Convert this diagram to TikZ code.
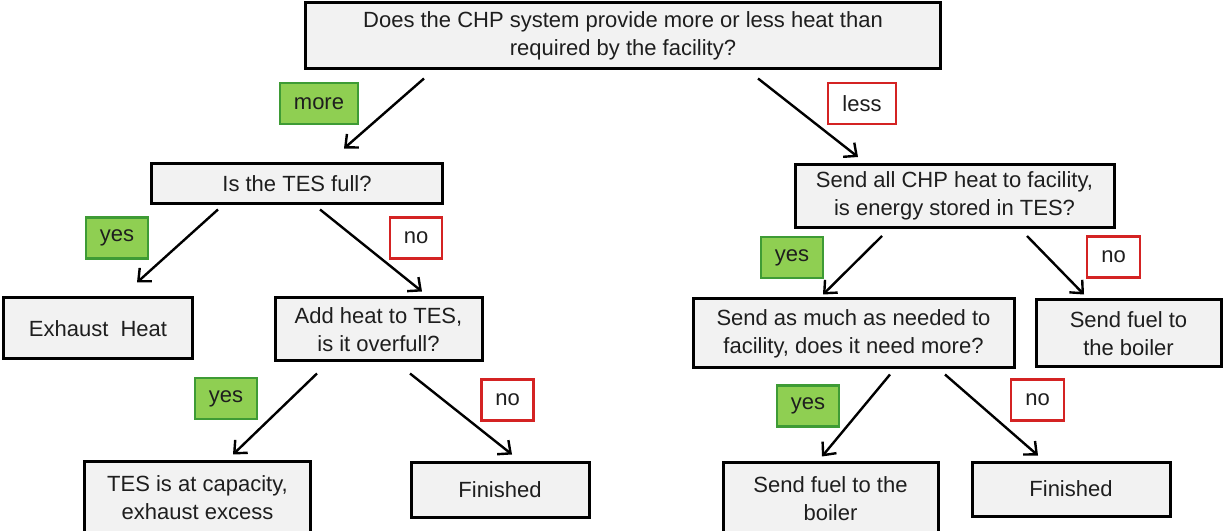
\documentclass[tikz,border=0pt]{standalone}
\usepackage{fontspec}
\setmainfont{Liberation Sans}
\usetikzlibrary{arrows.meta}
\definecolor{boxgray}{HTML}{F2F2F2}
\definecolor{yesfill}{HTML}{8FCF52}
\definecolor{yesedge}{HTML}{3E9B35}
\definecolor{nored}{HTML}{D42323}
\definecolor{inkgray}{HTML}{1E1E1E}

\begin{document}
\begin{tikzpicture}[x=1bp, y=-1bp,
    box/.style={draw=black, fill=boxgray, line width=3bp, align=center, inner sep=0pt,
      text=inkgray, font=\fontsize{22bp}{28bp}\selectfont},
    yeslabel/.style={draw=yesedge, fill=yesfill, line width=2.6bp, inner sep=0pt,
      minimum width=62bp, minimum height=41bp, text=inkgray, font=\fontsize{22bp}{28bp}\selectfont},
    nolabel/.style={draw=nored, fill=white, line width=2.6bp, inner sep=0pt,
      minimum width=52bp, minimum height=41bp, text=inkgray, font=\fontsize{22bp}{28bp}\selectfont},
    flow/.style={-{Straight Barb[length=10bp,width=18bp]}, line width=2.4bp}]
        \useasboundingbox (0,0) rectangle (1225,531);

        % Question boxes
        \node[box, minimum width=634bp, minimum height=66bp] (q) at (623,36)
          {Does the CHP system provide more or less heat than\\required by the facility?};
        \node[box, minimum width=290bp, minimum height=40bp] (full) at (297,184) {Is the TES full?};
        \node[box, minimum width=319bp, minimum height=63bp] (send) at (954.5,196)
          {Send all CHP heat to facility,\\is energy stored in TES?};
        \node[box, minimum width=207bp, minimum height=63bp] (add) at (378.5,329.5)
          {Add heat to TES,\\is it overfull?};
        \node[box, minimum width=321bp, minimum height=69bp] (ask) at (853.5,333.5)
          {Send as much as needed to\\facility, does it need more?};

        % Outcome boxes
        \node[box, minimum width=188bp, minimum height=61bp] (exh) at (98,328.5) {Exhaust\ \ Heat};
        \node[box, minimum width=185bp, minimum height=67bp] (fuel1) at (1128.5,333.5)
          {Send fuel to\\the boiler};
        \node[box, minimum width=225bp, minimum height=72bp] (cap) at (197.5,498)
          {TES is at capacity,\\exhaust excess};
        \node[box, minimum width=178bp, minimum height=55bp] (fin1) at (500,489.5) {Finished};
        \node[box, minimum width=215bp, minimum height=72bp] (fuel2) at (830.5,499)
          {Send fuel to the\\boiler};
        \node[box, minimum width=198bp, minimum height=54bp] (fin2) at (1071,489) {Finished};

        % Arrows
        \draw[flow] ([shift={(-199,8)}]q.south) -- ([shift={(47,-14)}]full.north);
        \draw[flow] ([shift={(135,8)}]q.south) -- ([shift={(-96.5,-6)}]send.north);
        \draw[flow] ([shift={(-79,4)}]full.south) -- ([shift={(39,-14)}]exh.north);
        \draw[flow] ([shift={(23,4)}]full.south) -- ([shift={(43.5,-5)}]add.north);
        \draw[flow] ([shift={(-72.5,7)}]send.south) -- ([shift={(-30.5,-3)}]ask.north);
        \draw[flow] ([shift={(72.5,7)}]send.south) -- ([shift={(-44.5,-4)}]fuel1.north);
        \draw[flow] ([shift={(-61.5,11)}]add.south) -- ([shift={(35.5,-6)}]cap.north);
        \draw[flow] ([shift={(31.5,11)}]add.south) -- ([shift={(12,-6)}]fin1.north);
        \draw[flow] ([shift={(36.5,5)}]ask.south) -- ([shift={(-8.5,-5)}]fuel2.north);
        \draw[flow] ([shift={(91.5,5)}]ask.south) -- ([shift={(-33,-5)}]fin2.north);

        % Answer labels
        \node[yeslabel, minimum width=78bp] (more) at (319,103.5) {more};
        \node[nolabel, minimum width=68bp] (less) at (862,103.5) {less};
        \node[yeslabel] (yes1) at (117,238) {yes};
        \node[nolabel] (no1) at (416,238) {no};
        \node[yeslabel] (yes2) at (792,257.5) {yes};
        \node[nolabel, minimum width=53bp] (no2) at (1113.5,257) {no};
        \node[yeslabel] (yes3) at (226,398.5) {yes};
        \node[nolabel] (no3) at (507.5,400) {no};
        \node[yeslabel] (yes4) at (808,406) {yes};
        \node[nolabel, minimum width=53bp] (no4) at (1037.5,400) {no};
      \end{tikzpicture}
\end{document}
